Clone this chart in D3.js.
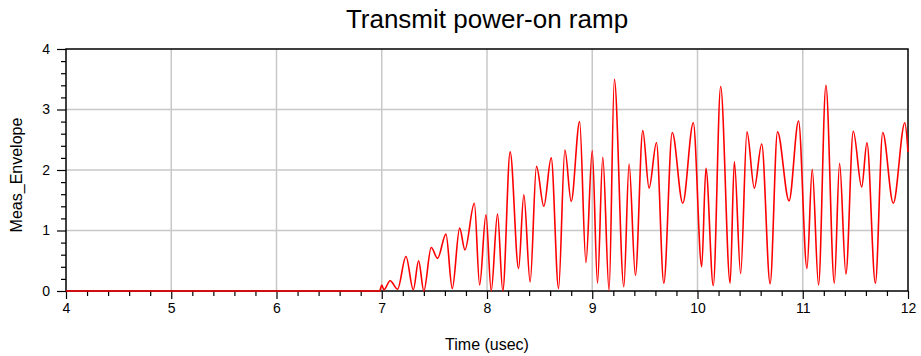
<!DOCTYPE html>
<html>
<head>
<meta charset="utf-8">
<script src="https://cdn.jsdelivr.net/npm/d3@7"></script>
<style>
  html, body { margin: 0; padding: 0; background: #fff; }
  svg { display: block; font-family: "Liberation Sans", Arial, sans-serif; }
</style>
</head>
<body>
<svg id="chart" width="921" height="356"></svg>
<script>
// Envelope samples (time in microseconds, envelope magnitude)
const timeUsec = [
  4.00, 6.98, 7.00, 7.02, 7.08, 7.15, 7.23, 7.30, 7.35, 7.40,
  7.47, 7.53, 7.61, 7.67, 7.74, 7.79, 7.88, 7.93, 7.99, 8.04,
  8.10, 8.15, 8.22, 8.30, 8.35, 8.41, 8.47, 8.54, 8.61, 8.68,
  8.74, 8.80, 8.88, 8.94, 9.00, 9.05, 9.10, 9.16, 9.21, 9.30,
  9.35, 9.41, 9.48, 9.54, 9.61, 9.68, 9.76, 9.86, 9.96, 10.04,
  10.08, 10.15, 10.22, 10.31, 10.35, 10.41, 10.47, 10.54, 10.61, 10.69,
  10.76, 10.87, 10.96, 11.04, 11.09, 11.15, 11.22, 11.30, 11.35, 11.41,
  11.48, 11.56, 11.61, 11.69, 11.76, 11.86, 11.97, 12.00
];
const envelope = [
  0.00, 0.00, 0.10, 0.02, 0.17, 0.03, 0.57, 0.02, 0.50, 0.00,
  0.72, 0.54, 0.94, 0.04, 1.04, 0.68, 1.45, 0.10, 1.26, 0.00,
  1.27, 0.00, 2.30, 0.37, 1.59, 0.15, 2.06, 1.40, 2.20, 0.04,
  2.33, 1.48, 2.80, 0.47, 2.32, 0.13, 2.21, 0.01, 3.50, 0.07,
  2.10, 0.26, 2.65, 1.70, 2.45, 0.13, 2.62, 1.45, 2.78, 0.40,
  2.03, 0.09, 3.38, 0.13, 2.14, 0.29, 2.63, 1.70, 2.43, 0.12,
  2.63, 1.49, 2.81, 0.37, 2.01, 0.10, 3.40, 0.13, 2.11, 0.28,
  2.64, 1.72, 2.45, 0.13, 2.62, 1.45, 2.78, 2.30
];
const xTicks = [4, 5, 6, 7, 8, 9, 10, 11, 12];
const yTicks = [0, 1, 2, 3, 4];

const titleText = "Transmit power-on ramp";
const xLabel = "Time (usec)";
const yLabel = "Meas_Envelope";

const svg = d3.select("#chart");
const plotL = 66, plotR = 908, plotT = 49, plotB = 291;

const x = d3.scaleLinear().domain([4, 12]).range([plotL, plotR]);
const y = d3.scaleLinear().domain([0, 4]).range([plotB, plotT]);

// grid
const grid = svg.append("g").attr("stroke", "#c8c8c8").attr("stroke-width", 1.5);
grid.selectAll(".gx").data(xTicks.slice(1, -1)).join("line")
  .attr("x1", d => x(d)).attr("x2", d => x(d)).attr("y1", plotT).attr("y2", plotB);
grid.selectAll(".gy").data(yTicks.slice(1, -1)).join("line")
  .attr("y1", d => y(d)).attr("y2", d => y(d)).attr("x1", plotL).attr("x2", plotR);

// minor ticks every 0.2
const xMinor = d3.range(40, 121, 2).map(v => v / 10).filter(v => !xTicks.includes(v));
const yMinor = d3.range(0, 41, 2).map(v => v / 10).filter(v => !yTicks.includes(v));

// x axis
const gx = svg.append("g").attr("transform", `translate(0,${plotB})`)
  .call(d3.axisBottom(x).tickValues(xTicks).tickFormat(d3.format("d")).tickSize(8).tickPadding(4));
gx.selectAll("text").attr("font-size", 14).attr("fill", "#000");
gx.select(".domain").remove();
svg.append("g").attr("transform", `translate(0,${plotB})`)
  .call(d3.axisBottom(x).tickValues(xMinor).tickFormat("").tickSize(5))
  .select(".domain").remove();

// y axis
const gy = svg.append("g").attr("transform", `translate(${plotL},0)`)
  .call(d3.axisLeft(y).tickValues(yTicks).tickFormat(d3.format("d")).tickSize(9).tickPadding(7));
gy.selectAll("text").attr("font-size", 14).attr("fill", "#000");
gy.select(".domain").remove();
svg.append("g").attr("transform", `translate(${plotL},0)`)
  .call(d3.axisLeft(y).tickValues(yMinor).tickFormat("").tickSize(5))
  .select(".domain").remove();

svg.selectAll(".tick line").attr("stroke", "#000").attr("stroke-width", 1.2);

// frame
svg.append("rect")
  .attr("x", plotL).attr("y", plotT).attr("width", plotR - plotL).attr("height", plotB - plotT)
  .attr("fill", "none").attr("stroke", "#000").attr("stroke-width", 1.5);

// trace
const pts = timeUsec.map((t, i) => [t, envelope[i]]);
const line = d3.line().x(d => x(d[0])).y(d => y(d[1])).curve(d3.curveMonotoneX);
svg.append("path").datum(pts)
  .attr("d", line)
  .attr("fill", "none").attr("stroke", "#ff0000").attr("stroke-width", 1.6);

// texts
svg.append("text").attr("x", (plotL + plotR) / 2).attr("y", 28)
  .attr("text-anchor", "middle").attr("font-size", 26).text(titleText);
svg.append("text").attr("x", (plotL + plotR) / 2).attr("y", 350)
  .attr("text-anchor", "middle").attr("font-size", 16).text(xLabel);
svg.append("text").attr("transform", `translate(22,175) rotate(-90)`)
  .attr("text-anchor", "middle").attr("font-size", 16).text(yLabel);
</script>
</body>
</html>
